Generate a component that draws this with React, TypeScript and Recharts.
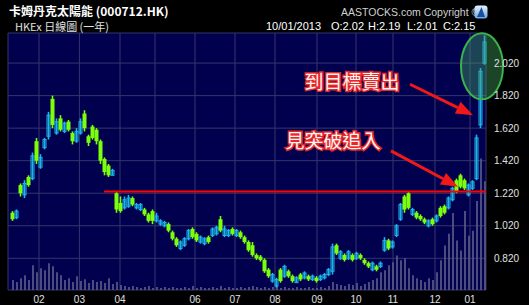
import {
  ComposedChart,
  Bar,
  XAxis,
  YAxis,
  CartesianGrid,
  ReferenceLine,
  ReferenceDot,
} from "recharts";

// one bar ~ two trading days, Jan 2012 -> 10 Jan 2013
const lows = [
  1.05, 1.06, 1.2, 1.19, 1.26, 1.3, 1.4, 1.37, 1.49, 1.55,
  1.62, 1.58, 1.6, 1.59, 1.6, 1.52, 1.53, 1.58, 1.6, 1.51,
  1.55, 1.52, 1.4, 1.33, 1.32, 1.33, 1.1, 1.1, 1.12, 1.13,
  1.14, 1.12, 1.11, 1.08, 1.04, 1.03, 1.04, 1.02, 1.01, 0.98,
  0.93, 0.89, 0.87, 0.89, 0.93, 0.94, 0.92, 0.91, 0.9, 0.91,
  0.95, 0.96, 0.98, 0.95, 0.95, 0.96, 0.95, 0.94, 0.91, 0.86,
  0.83, 0.81, 0.8, 0.73, 0.7, 0.67, 0.64, 0.67, 0.7, 0.7,
  0.67, 0.67, 0.68, 0.69, 0.68, 0.68, 0.67, 0.68, 0.69, 0.71,
  0.72, 0.84, 0.81, 0.8, 0.81, 0.8, 0.81, 0.81, 0.78, 0.76,
  0.74, 0.74, 0.76, 0.86, 0.87, 0.88, 0.95, 1.05, 1.1, 1.12,
  1.08, 1.06, 1.05, 1.03, 1.01, 1.02, 1.04, 1.07, 1.09, 1.12,
  1.17, 1.22, 1.25, 1.24, 1.2, 1.24, 1.3, 1.62, 2.01,
];
const highs = [
  1.11, 1.12, 1.28, 1.3, 1.33, 1.47, 1.56, 1.46, 1.56, 1.72,
  1.82, 1.68, 1.7, 1.66, 1.67, 1.6, 1.62, 1.68, 1.73, 1.58,
  1.64, 1.62, 1.55, 1.44, 1.4, 1.37, 1.23, 1.2, 1.2, 1.21,
  1.2, 1.16, 1.16, 1.13, 1.1, 1.12, 1.1, 1.06, 1.05, 1.04,
  0.99, 0.95, 0.93, 0.95, 1.0, 1.01, 0.98, 0.96, 0.95, 0.96,
  1.01, 1.02, 1.08, 1.02, 1.0, 1.01, 1.0, 0.99, 0.96, 0.93,
  0.92, 0.85, 0.84, 0.82, 0.76, 0.73, 0.7, 0.76, 0.78, 0.75,
  0.72, 0.71, 0.73, 0.74, 0.72, 0.72, 0.71, 0.72, 0.73, 0.76,
  0.91, 0.91, 0.87, 0.85, 0.87, 0.85, 0.86, 0.85, 0.82, 0.8,
  0.8, 0.78, 0.8, 0.95, 0.94, 0.93, 1.03, 1.16, 1.21, 1.23,
  1.13, 1.11, 1.09, 1.07, 1.06, 1.07, 1.09, 1.14, 1.15, 1.2,
  1.26, 1.31, 1.34, 1.31, 1.28, 1.3, 1.58, 1.99, 2.19,
];
const opens = [
  1.1, 1.07, 1.27, 1.21, 1.32, 1.31, 1.54, 1.38, 1.5, 1.57,
  1.8, 1.59, 1.68, 1.6, 1.66, 1.59, 1.54, 1.59, 1.71, 1.57,
  1.63, 1.61, 1.54, 1.43, 1.39, 1.33, 1.22, 1.16, 1.13, 1.14,
  1.19, 1.13, 1.12, 1.12, 1.09, 1.11, 1.05, 1.03, 1.02, 1.03,
  0.98, 0.94, 0.88, 0.9, 0.94, 1.0, 0.97, 0.92, 0.91, 0.95,
  0.96, 0.97, 1.06, 0.96, 0.96, 1.0, 0.96, 0.98, 0.95, 0.92,
  0.9, 0.84, 0.83, 0.81, 0.75, 0.68, 0.65, 0.75, 0.71, 0.74,
  0.71, 0.67, 0.72, 0.7, 0.71, 0.69, 0.7, 0.69, 0.7, 0.72,
  0.74, 0.9, 0.82, 0.84, 0.82, 0.84, 0.82, 0.84, 0.81, 0.79,
  0.75, 0.77, 0.77, 0.87, 0.93, 0.89, 0.96, 1.06, 1.2, 1.22,
  1.09, 1.1, 1.08, 1.06, 1.02, 1.06, 1.05, 1.13, 1.14, 1.13,
  1.18, 1.3, 1.33, 1.3, 1.21, 1.25, 1.31, 1.64, 2.02,
];
const closes = [
  1.06, 1.11, 1.22, 1.28, 1.27, 1.45, 1.42, 1.44, 1.55, 1.7,
  1.64, 1.66, 1.61, 1.65, 1.61, 1.54, 1.6, 1.66, 1.62, 1.53,
  1.56, 1.54, 1.42, 1.35, 1.33, 1.36, 1.12, 1.11, 1.18, 1.19,
  1.15, 1.15, 1.15, 1.09, 1.05, 1.05, 1.08, 1.05, 1.04, 0.99,
  0.94, 0.9, 0.92, 0.94, 0.99, 0.95, 0.93, 0.95, 0.94, 0.92,
  1.0, 1.01, 0.99, 1.0, 0.99, 0.97, 0.99, 0.95, 0.92, 0.87,
  0.84, 0.82, 0.81, 0.74, 0.71, 0.72, 0.69, 0.68, 0.77, 0.71,
  0.68, 0.7, 0.69, 0.73, 0.69, 0.71, 0.68, 0.71, 0.72, 0.75,
  0.89, 0.85, 0.86, 0.81, 0.86, 0.81, 0.85, 0.82, 0.79, 0.77,
  0.79, 0.75, 0.79, 0.93, 0.88, 0.92, 1.02, 1.15, 1.12, 1.13,
  1.12, 1.07, 1.06, 1.04, 1.05, 1.03, 1.08, 1.08, 1.1, 1.19,
  1.25, 1.23, 1.26, 1.25, 1.27, 1.29, 1.56, 1.97, 2.15,
];
// volume, million shares
const volumes = [
  10, 8, 12, 15, 10, 25, 18, 22, 20, 27,
  24, 18, 15, 10, 12, 8, 14, 9, 11, 7,
  10, 8, 9, 7, 12, 6, 8, 5, 4, 3,
  4, 3, 2, 3, 4, 2, 3, 2, 3, 2,
  3, 2, 2, 3, 2, 4, 2, 3, 2, 2,
  3, 2, 4, 2, 3, 2, 2, 3, 2, 3,
  4, 3, 2, 3, 2, 3, 4, 2, 3, 2,
  2, 3, 2, 2, 3, 2, 2, 3, 2, 4,
  8, 6, 5, 4, 6, 5, 7, 4, 6, 8,
  10, 12, 18, 20, 25, 28, 35, 30, 32, 22,
  15, 12, 10, 8, 12, 10, 18, 30, 45, 57,
  78, 50, 40, 80, 55, 60, 90, 133, 110,
];

const monthTicks = [6.5, 16.6, 26.75, 35.5, 45.5, 55.5, 65.5, 76, 85.75, 95, 105.5, 114.25];
const monthLabels = ["02", "03", "04", "", "06", "07", "08", "09", "10", "11", "12", "01"];
const priceTicks = [0.82, 1.02, 1.22, 1.42, 1.62, 1.82, 2.02];

const supportLevel = 1.23;
const supportFrom = 22.75;
const arrows = [
  { from: [99.25, 1.89], to: [115, 1.7] },
  { from: [94.5, 1.48], to: [111.25, 1.26] },
];
const notes = [
  { text: "到目標賣出", x: 84.75, y: 1.91 },
  { text: "見突破追入", x: 80, y: 1.548 },
];
const target = { x: 117.25, y: 2.0 };

const data = lows.map((low, i) => ({
  i,
  range: [low, highs[i]],
  high: highs[i],
  low,
  o: opens[i],
  c: closes[i],
  vol: volumes[i],
}));

const UP = "#1cb4ec";
const DOWN = "#7cff0a";

function Candle(props: any) {
  const { x, y, width, height, payload } = props;
  if (x == null || y == null) return null;
  const top = Math.min(y, y + height);
  const h = Math.abs(height);
  const span = payload.high - payload.low || 1;
  const up = payload.c >= payload.o;
  const col = up ? UP : DOWN;
  const bt = top + ((payload.high - Math.max(payload.o, payload.c)) / span) * h;
  const bb = top + ((payload.high - Math.min(payload.o, payload.c)) / span) * h;
  const cx = x + width / 2;
  return (
    <g>
      <line x1={cx} x2={cx} y1={top} y2={top + h} stroke={col} strokeWidth={1.6} />
      {up ? (
        <rect x={cx - 1.5} y={bt} width={3} height={Math.max(2, bb - bt)} fill="none" stroke={col} strokeWidth={1} />
      ) : (
        <rect x={cx - 2} y={bt} width={4} height={Math.max(2, bb - bt)} fill={col} />
      )}
    </g>
  );
}

function Arrow(props: any) {
  const { x1, y1, x2, y2 } = props;
  const dx = x2 - x1;
  const dy = y2 - y1;
  const len = Math.hypot(dx, dy) || 1;
  const ux = dx / len;
  const uy = dy / len;
  const L = 17;
  const W = 6.5;
  const bx = x2 - ux * L;
  const by = y2 - uy * L;
  const pts = `${x2},${y2} ${bx - uy * W},${by + ux * W} ${bx + uy * W},${by - ux * W}`;
  return (
    <g>
      <line x1={x1} y1={y1} x2={bx} y2={by} stroke="#f01818" strokeWidth={3} />
      <polygon points={pts} fill="#f01818" />
    </g>
  );
}

const textFont = '"Liberation Sans", Arial, sans-serif';
const cjkFont = '"Noto Sans CJK TC", "Noto Sans CJK SC", sans-serif';

export default function App() {
  return (
    <div
      style={{
        position: "absolute",
        left: 0,
        top: 0,
        width: 529,
        height: 305,
        background: "#000",
        overflow: "hidden",
      }}
    >
      <ComposedChart
        width={529}
        height={305}
        data={data}
        margin={{ top: 33, right: 0, bottom: 0, left: 8 }}
      >
        <CartesianGrid fill="#00004e" stroke="#35356c" strokeWidth={1} />
        <XAxis
          dataKey="i"
          type="number"
          domain={[-1.25, 118.25]}
          ticks={monthTicks}
          interval={0}
          tickFormatter={(v) => monthLabels[monthTicks.indexOf(v)] ?? ""}
          height={15}
          tickSize={4}
          tickLine={false}
          axisLine={false}
          tick={{ fill: "#e0e0e0", fontSize: 10, fontFamily: textFont }}
        />
        <XAxis xAxisId="v" dataKey="i" type="number" domain={[-1.25, 118.25]} hide />
        <YAxis
          orientation="right"
          domain={[0.625, 2.205]}
          ticks={priceTicks}
          interval={0}
          width={43}
          tickLine={false}
          axisLine={false}
          tickFormatter={(v) => v.toFixed(3)}
          tick={{ fill: "#e0e0e0", fontSize: 10, fontFamily: textFont }}
        />
        <YAxis yAxisId="v" domain={[0, 260]} hide />
        <Bar
          xAxisId="v"
          yAxisId="v"
          dataKey="vol"
          fill="#5e5e8a"
          fillOpacity={0.8}
          barSize={2}
          isAnimationActive={false}
        />
        <Bar dataKey="range" shape={Candle} barSize={3} isAnimationActive={false} />
        <ReferenceLine
          segment={[
            { x: supportFrom, y: supportLevel },
            { x: 118.25, y: supportLevel },
          ]}
          stroke="#ff0000"
          strokeWidth={2}
        />
        {arrows.map((a, k) => (
          <ReferenceLine
            key={k}
            segment={[
              { x: a.from[0], y: a.from[1] },
              { x: a.to[0], y: a.to[1] },
            ]}
            shape={Arrow}
          />
        ))}
        {notes.map((n) => (
          <ReferenceDot
            key={n.text}
            x={n.x}
            y={n.y}
            r={0}
            shape={(p: any) => (
              <text
                x={p.cx}
                y={p.cy}
                textAnchor="middle"
                dominantBaseline="central"
                fontSize={19}
                fontFamily={cjkFont}
                fill="#fff4f4"
                stroke="#e82828"
                strokeWidth={3}
                paintOrder="stroke"
              >
                {n.text}
              </text>
            )}
          />
        ))}
        <ReferenceDot
          x={target.x}
          y={target.y}
          r={0}
          ifOverflow="visible"
          shape={(p: any) => (
            <ellipse
              cx={p.cx}
              cy={p.cy}
              rx={21}
              ry={33}
              fill="rgba(70,170,100,0.4)"
              stroke="#3bb44a"
              strokeWidth={2}
            />
          )}
        />
      </ComposedChart>

      <div
        style={{
          position: "absolute",
          left: 9,
          top: 4,
          font: `bold 12px ${cjkFont}`,
          lineHeight: "14px",
          color: "#fff",
          whiteSpace: "nowrap",
        }}
      >
        卡姆丹克太陽能 (000712.HK)
      </div>
      <div
        style={{
          position: "absolute",
          left: 15,
          top: 20,
          font: `11px ${cjkFont}`,
          lineHeight: "12px",
          color: "#e0e0e0",
          whiteSpace: "nowrap",
        }}
      >
        HKEx 日線圖 (一年)
      </div>
      <div
        style={{
          position: "absolute",
          left: 341,
          top: 6,
          font: `10.5px ${textFont}`,
          lineHeight: "13px",
          color: "#d0d0d0",
          whiteSpace: "nowrap",
        }}
      >
        AASTOCKS.com Copyright ©
      </div>
      <svg style={{ position: "absolute", left: 474, top: 5 }} width={14} height={14}>
        <defs>
          <linearGradient id="lg" x1="0" y1="0" x2="0" y2="1">
            <stop offset="0" stopColor="#e8f4ff" />
            <stop offset="1" stopColor="#6aa8e0" />
          </linearGradient>
        </defs>
        <rect x={0.5} y={0.5} width={13} height={13} rx={3} fill="url(#lg)" />
        <path d="M7.5 2 L11 12 L3 12 Z" fill="#1a4fa0" />
      </svg>
      {[
        { t: "10/01/2013", x: 266 },
        { t: "O:2.02", x: 331 },
        { t: "H:2.19", x: 368 },
        { t: "L:2.01", x: 407 },
        { t: "C:2.15", x: 443 },
      ].map((s) => (
        <div
          key={s.t}
          style={{
            position: "absolute",
            left: s.x,
            top: 20,
            font: `11px ${textFont}`,
            lineHeight: "12px",
            color: "#fff",
            whiteSpace: "nowrap",
          }}
        >
          {s.t}
        </div>
      ))}
    </div>
  );
}
